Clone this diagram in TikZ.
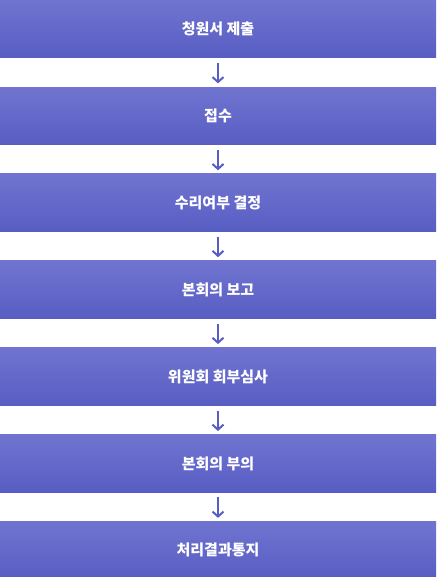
\documentclass[tikz,border=0pt]{standalone}
\usepackage{fontspec}
\newfontfamily\krfont{Noto Sans CJK KR}
\usetikzlibrary{arrows.meta, positioning}
\definecolor{stepblue}{HTML}{585DC3}
\definecolor{steptop}{HTML}{7074D0}
\tikzset{
  stepbox/.style = {rectangle, inner sep=0pt, minimum width=436pt, minimum height=57.5pt,
    top color=steptop, middle color=stepblue, bottom color=stepblue,
    text=white, font=\krfont\bfseries\fontsize{15pt}{17pt}\selectfont},
  arrow/.style = {line width=2pt, draw=stepblue, -{Straight Barb[length=5pt, width=11pt, line width=2pt]},
    shorten <=5pt, shorten >=3.5pt},
}
\begin{document}
\begin{tikzpicture}[x=1pt, y=1pt, node distance=29pt]
  \useasboundingbox (0,0) rectangle (436,-577);

  % Steps
  \node[stepbox, anchor=north] (s1) at (218,0) {청원서 제출};
  \node[stepbox, below=of s1] (s2) {접수};
  \node[stepbox, below=of s2] (s3) {수리여부 결정};
  \node[stepbox, below=of s3] (s4) {본회의 보고};
  \node[stepbox, below=of s4] (s5) {위원회 회부심사};
  \node[stepbox, below=of s5] (s6) {본회의 부의};
  \node[stepbox, below=of s6] (s7) {처리결과통지};

  % Arrows
  \draw[arrow] (s1) -- (s2);
  \draw[arrow] (s2) -- (s3);
  \draw[arrow] (s3) -- (s4);
  \draw[arrow] (s4) -- (s5);
  \draw[arrow] (s5) -- (s6);
  \draw[arrow] (s6) -- (s7);

\end{tikzpicture}
\end{document}
